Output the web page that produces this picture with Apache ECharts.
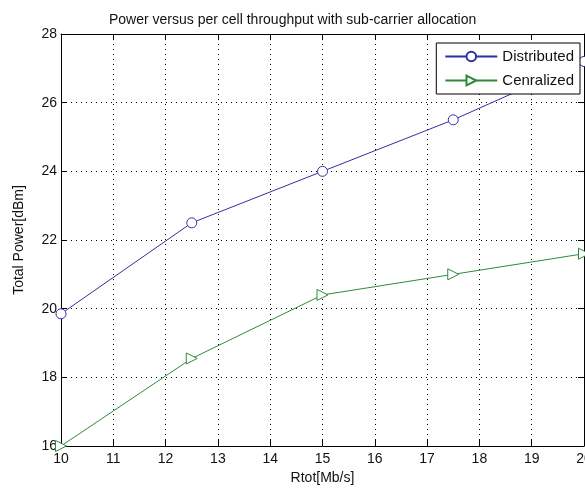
<!DOCTYPE html>
<html><head><meta charset="utf-8">
<script src="https://cdn.jsdelivr.net/npm/echarts@6/dist/echarts.min.js"></script>
<style>html,body{margin:0;padding:0;background:#fff}#c{width:585px;height:489px}</style>
</head><body><div id="c"></div>
<script>
const xValues = [10, 12.5, 15, 17.5, 20];
const distributed = [19.85, 22.5, 24.0, 25.5, 27.2];
const centralized = [16.0, 18.55, 20.4, 21.0, 21.6];
const seriesNames = ['Distributed', 'Cenralized'];
const titleText = 'Power versus per cell throughput with sub-carrier allocation';
const xName = 'Rtot[Mb/s]';
const yName = 'Total Power[dBm]';

const font = 'Liberation Sans';
const chart = echarts.init(document.getElementById('c'));
const pair = (xs, ys) => xs.map((x, i) => [x, ys[i]]);
const tickStyle = {show: true, inside: true, length: 6, lineStyle: {color: '#000', width: 1}};
chart.setOption({
  animation: false,
  title: {text: titleText, left: 104, top: 8,
    textStyle: {fontFamily: font, fontSize: 14, fontWeight: 'normal', color: '#111'}},
  grid: {left: 61, right: 1, top: 34, bottom: 43, outerBoundsMode: 'none', containLabel: false},
  legend: {
    right: 5, top: 43, orient: 'vertical', itemWidth: 52, itemHeight: 12, itemGap: 9,
    backgroundColor: '#fff', borderColor: '#000', borderWidth: 1, borderRadius: 0,
    padding: [6, 6, 6, 8],
    textStyle: {fontFamily: font, fontSize: 15, color: '#111'},
    data: seriesNames
  },
  xAxis: [{
    type: 'value', min: 10, max: 20, interval: 1,
    name: xName, nameLocation: 'middle', nameGap: 25,
    nameTextStyle: {fontFamily: font, fontSize: 14, color: '#111'},
    axisLine: {show: true, lineStyle: {color: '#000', width: 1}},
    axisTick: tickStyle,
    axisLabel: {fontFamily: font, fontSize: 14, color: '#111', margin: 6},
    splitLine: {show: true, lineStyle: {color: '#000', type: [1, 4], width: 1}}
  }, {
    type: 'value', min: 10, max: 20, interval: 1, position: 'top',
    axisLine: {show: true, lineStyle: {color: '#000', width: 1}},
    axisTick: tickStyle, axisLabel: {show: false}, splitLine: {show: false}
  }],
  yAxis: [{
    type: 'value', min: 16, max: 28, interval: 2,
    name: yName, nameLocation: 'middle', nameGap: 35,
    nameTextStyle: {fontFamily: font, fontSize: 14, color: '#111'},
    axisLine: {show: true, lineStyle: {color: '#000', width: 1}},
    axisTick: tickStyle,
    axisLabel: {fontFamily: font, fontSize: 14, color: '#111', margin: 4},
    splitLine: {show: true, lineStyle: {color: '#000', type: [1, 4], width: 1}}
  }, {
    type: 'value', min: 16, max: 28, interval: 2, position: 'right',
    axisLine: {show: true, lineStyle: {color: '#000', width: 1}},
    axisTick: tickStyle, axisLabel: {show: false}, splitLine: {show: false}
  }],
  series: [{
    name: seriesNames[0], type: 'line', data: pair(xValues, distributed),
    symbol: 'circle', symbolSize: 10, showAllSymbol: true,
    itemStyle: {color: '#fff', borderColor: '#3030a0', borderWidth: 1},
    lineStyle: {color: '#3030a0', width: 1}, color: '#3030a0'
  }, {
    name: seriesNames[1], type: 'line', data: pair(xValues, centralized),
    symbol: 'triangle', symbolSize: 11, symbolRotate: -90, showAllSymbol: true,
    itemStyle: {color: '#fff', borderColor: '#2f8a3a', borderWidth: 1},
    lineStyle: {color: '#2f8a3a', width: 1}, color: '#2f8a3a'
  }]
});
</script></body></html>
